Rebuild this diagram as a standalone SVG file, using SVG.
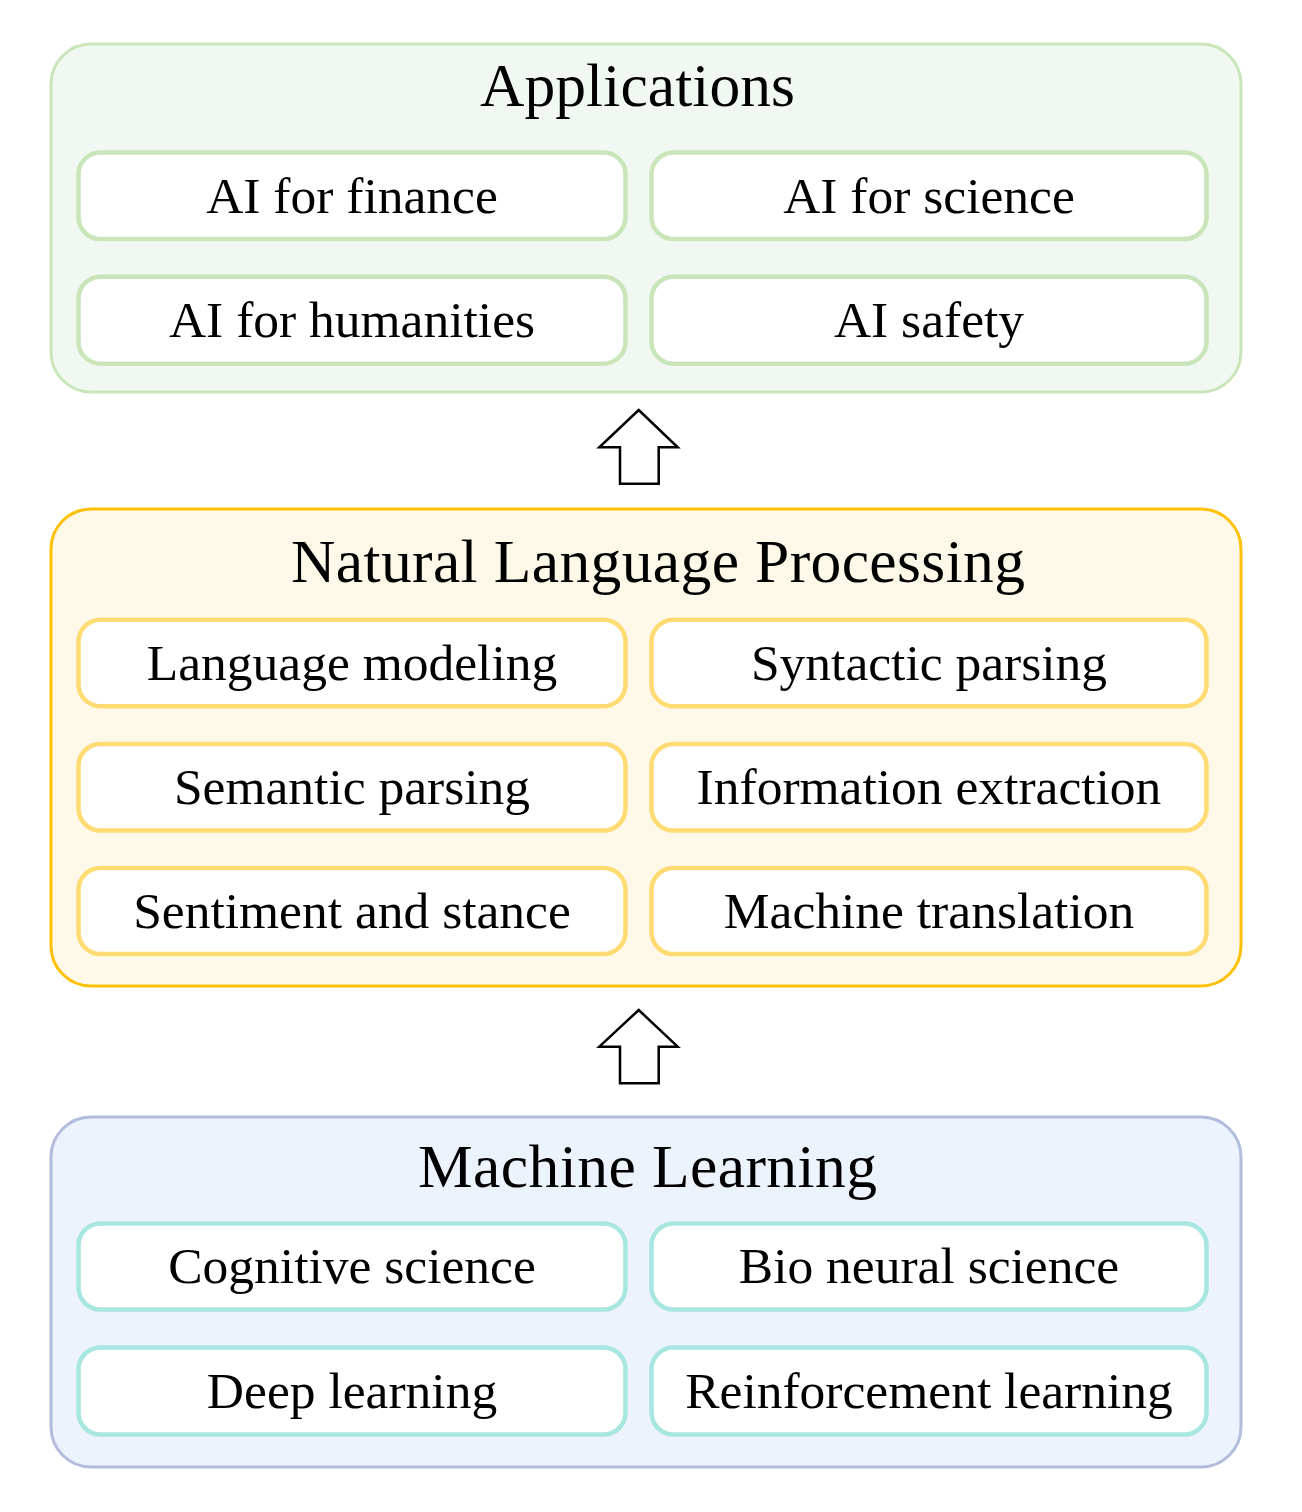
<svg xmlns="http://www.w3.org/2000/svg" width="1302" height="1512" viewBox="0 0 1302 1512">
<style>
text{font-family:"Liberation Serif","Times New Roman",serif;fill:#000;text-anchor:middle}
.title{font-size:61.5px}
.item{font-size:51.5px}
.outer{stroke-width:3}
.inner{fill:#fff;stroke-width:4.5}
.g .outer{fill:#f1f8f1;stroke:#c9e5b9}
.g .inner{stroke:#c9e5b9}
.y .outer{fill:#fef8e8;stroke:#ffc107}
.y .inner{stroke:#ffdc73}
.b .outer{fill:#edf3fd;stroke:#b2bcdc}
.b .inner{stroke:#a8e7e0}
.arrow{fill:#fff;stroke:#000;stroke-width:2.5;stroke-linejoin:miter}
</style>
<g id="applications" class="g">
<rect class="outer" x="51" y="44" width="1190" height="348" rx="40"/>
<text class="title" x="637.5" y="106" textLength="315">Applications</text>
<g id="ai-finance"><rect class="inner" x="78.5" y="152.5" width="547" height="86.5" rx="22"/><text class="item" x="352" y="213">AI for finance</text></g>
<g id="ai-science"><rect class="inner" x="651.5" y="152.5" width="555" height="86.5" rx="22"/><text class="item" x="929" y="213">AI for science</text></g>
<g id="ai-humanities"><rect class="inner" x="78.5" y="276.7" width="547" height="87" rx="22"/><text class="item" x="352" y="337">AI for humanities</text></g>
<g id="ai-safety"><rect class="inner" x="651.5" y="276.7" width="555" height="87" rx="22"/><text class="item" x="929" y="337">AI safety</text></g>
</g>
<g id="nlp" class="y">
<rect class="outer" x="51" y="509" width="1190" height="477" rx="40"/>
<text class="title" x="658" y="582" textLength="734">Natural Language Processing</text>
<g id="lm"><rect class="inner" x="78.5" y="619.7" width="547" height="86.5" rx="22"/><text class="item" x="352" y="680">Language modeling</text></g>
<g id="syn"><rect class="inner" x="651.5" y="619.7" width="555" height="86.5" rx="22"/><text class="item" x="929" y="680">Syntactic parsing</text></g>
<g id="sem"><rect class="inner" x="78.5" y="744" width="547" height="86.5" rx="22"/><text class="item" x="352" y="804">Semantic parsing</text></g>
<g id="ie"><rect class="inner" x="651.5" y="744" width="555" height="86.5" rx="22"/><text class="item" x="929" y="804">Information extraction</text></g>
<g id="sent"><rect class="inner" x="78.5" y="868" width="547" height="86" rx="22"/><text class="item" x="352" y="928">Sentiment and stance</text></g>
<g id="mt"><rect class="inner" x="651.5" y="868" width="555" height="86" rx="22"/><text class="item" x="929" y="928">Machine translation</text></g>
</g>
<g id="ml" class="b">
<rect class="outer" x="51" y="1117" width="1190" height="350" rx="40"/>
<text class="title" x="647.5" y="1187" textLength="459">Machine Learning</text>
<g id="cog"><rect class="inner" x="78.5" y="1223.5" width="547" height="86" rx="22"/><text class="item" x="352" y="1283">Cognitive science</text></g>
<g id="bio"><rect class="inner" x="651.5" y="1223.5" width="555" height="86" rx="22"/><text class="item" x="929" y="1283">Bio neural science</text></g>
<g id="dl"><rect class="inner" x="78.5" y="1347.5" width="547" height="87" rx="22"/><text class="item" x="352" y="1408">Deep learning</text></g>
<g id="rl"><rect class="inner" x="651.5" y="1347.5" width="555" height="87" rx="22"/><text class="item" x="929" y="1408">Reinforcement learning</text></g>
</g>
<g id="connectors">
<polygon class="arrow" points="638.7,410 677.7,447.3 658.7,447.3 658.7,483.7 620,483.7 620,447.3 599.3,447.3"/>
<polygon class="arrow" points="638.7,1010 677.7,1046.7 658.7,1046.7 658.7,1083.3 620,1083.3 620,1046.7 599.3,1046.7"/>
</g>
</svg>
